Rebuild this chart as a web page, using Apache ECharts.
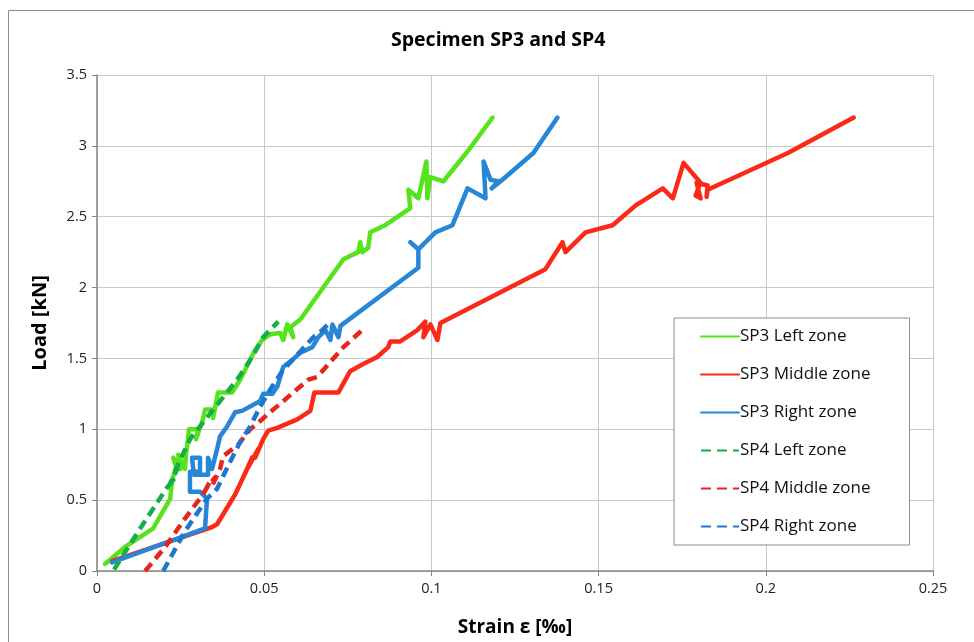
<!DOCTYPE html>
<html>
<head>
<meta charset="utf-8">
<script src="https://cdn.jsdelivr.net/npm/echarts@6/dist/echarts.min.js"></script>
<style>
  html, body { margin: 0; padding: 0; background: #fff; }
  #chart { width: 974px; height: 642px; }
</style>
</head>
<body>
<div id="chart"></div>
<script>
// axis ticks
const xTicks = [0, 0.05, 0.1, 0.15, 0.2, 0.25];
const yTicks = [0, 0.5, 1, 1.5, 2, 2.5, 3, 3.5];

const seriesNames = ['SP3 Left zone', 'SP3 Middle zone', 'SP3 Right zone', 'SP4 Left zone', 'SP4 Middle zone', 'SP4 Right zone'];

// SP3 left zone
const sp3LeftStrain = [0.0024, 0.0084, 0.0168, 0.0219, 0.0225, 0.0237, 0.0228, 0.0249, 0.0243, 0.0263, 0.0266, 0.0272, 0.0275, 0.0302, 0.0296, 0.0317, 0.0323, 0.0350, 0.0347, 0.0362, 0.0404, 0.0428, 0.0473, 0.0494, 0.0518, 0.0548, 0.0557, 0.0569, 0.0587, 0.0578, 0.0608, 0.0737, 0.0781, 0.0787, 0.0793, 0.0811, 0.0817, 0.0862, 0.0937, 0.0931, 0.0961, 0.0985, 0.0988, 0.0997, 0.1036, 0.1108, 0.1183];
const sp3LeftLoad = [0.05, 0.17, 0.30, 0.51, 0.65, 0.73, 0.80, 0.72, 0.82, 0.72, 0.82, 0.93, 1.00, 1.00, 0.93, 1.07, 1.14, 1.14, 1.08, 1.26, 1.26, 1.35, 1.56, 1.63, 1.67, 1.68, 1.63, 1.74, 1.65, 1.72, 1.775, 2.20, 2.25, 2.32, 2.25, 2.28, 2.39, 2.44, 2.56, 2.69, 2.63, 2.89, 2.63, 2.78, 2.75, 2.96, 3.20];

// SP3 middle zone
const sp3MiddleStrain = [0.0045, 0.0344, 0.0359, 0.0413, 0.0449, 0.0437, 0.0464, 0.0452, 0.0482, 0.0473, 0.0497, 0.0512, 0.0539, 0.0569, 0.0599, 0.0638, 0.0650, 0.0722, 0.0757, 0.0796, 0.0838, 0.0871, 0.0877, 0.0907, 0.0958, 0.0982, 0.0976, 0.0997, 0.1018, 0.1027, 0.1341, 0.1392, 0.1401, 0.1461, 0.1542, 0.1611, 0.1692, 0.1722, 0.1754, 0.1805, 0.1790, 0.1805, 0.1793, 0.1826, 0.1823, 0.1826, 0.2066, 0.2263];
const sp3MiddleLoad = [0.07, 0.31, 0.33, 0.54, 0.72, 0.66, 0.80, 0.73, 0.86, 0.80, 0.93, 0.99, 1.01, 1.04, 1.07, 1.13, 1.26, 1.26, 1.41, 1.46, 1.51, 1.58, 1.62, 1.62, 1.70, 1.76, 1.65, 1.74, 1.63, 1.75, 2.13, 2.32, 2.25, 2.39, 2.44, 2.58, 2.70, 2.63, 2.88, 2.74, 2.65, 2.63, 2.74, 2.72, 2.64, 2.69, 2.95, 3.20];

// SP3 right zone
const sp3RightStrain = [0.0045, 0.0323, 0.0329, 0.0308, 0.0278, 0.0278, 0.0308, 0.0308, 0.0284, 0.0290, 0.0332, 0.0332, 0.0344, 0.0359, 0.0368, 0.0389, 0.0413, 0.0434, 0.0488, 0.0497, 0.0524, 0.0539, 0.0557, 0.0584, 0.0608, 0.0644, 0.0662, 0.0683, 0.0698, 0.0704, 0.0722, 0.0728, 0.0961, 0.0961, 0.0937, 0.0961, 0.1012, 0.1063, 0.1108, 0.1162, 0.1156, 0.1177, 0.1201, 0.1180, 0.1207, 0.1305, 0.1377];
const sp3RightLoad = [0.06, 0.30, 0.51, 0.56, 0.56, 0.70, 0.70, 0.80, 0.80, 0.68, 0.68, 0.80, 0.72, 0.86, 0.95, 1.02, 1.12, 1.13, 1.20, 1.25, 1.25, 1.30, 1.44, 1.49, 1.54, 1.58, 1.65, 1.70, 1.63, 1.74, 1.65, 1.73, 2.14, 2.27, 2.32, 2.27, 2.39, 2.44, 2.70, 2.63, 2.89, 2.76, 2.75, 2.70, 2.75, 2.95, 3.20];

// SP4 left zone
const sp4LeftStrain = [0.0051, 0.0129, 0.0210, 0.0234, 0.0219, 0.0240, 0.0228, 0.0278, 0.0338, 0.0419, 0.0464, 0.0497, 0.0542];
const sp4LeftLoad = [0.01, 0.30, 0.59, 0.66, 0.62, 0.72, 0.68, 0.93, 1.11, 1.35, 1.51, 1.65, 1.76];

// SP4 middle zone
const sp4MiddleStrain = [0.0144, 0.0204, 0.0263, 0.0317, 0.0338, 0.0326, 0.0353, 0.0344, 0.0368, 0.0377, 0.0422, 0.0458, 0.0494, 0.0512, 0.0548, 0.0587, 0.0632, 0.0659, 0.0692, 0.0737, 0.0793];
const sp4MiddleLoad = [0.0, 0.17, 0.37, 0.54, 0.63, 0.58, 0.66, 0.60, 0.72, 0.81, 0.89, 1.00, 1.07, 1.11, 1.18, 1.26, 1.35, 1.37, 1.46, 1.58, 1.70];

// SP4 right zone
const sp4RightStrain = [0.0198, 0.0263, 0.0329, 0.0359, 0.0398, 0.0428, 0.0458, 0.0488, 0.0518, 0.0554, 0.0593, 0.0647, 0.0674, 0.0698];
const sp4RightLoad = [0.0, 0.28, 0.51, 0.58, 0.77, 0.91, 1.02, 1.16, 1.28, 1.41, 1.51, 1.65, 1.70, 1.76];

function pairs(xs, ys) {
    return xs.map(function (x, i) { return [x, ys[i]]; });
}

const chart = echarts.init(document.getElementById('chart'));
const font = '"Open Sans", "Noto Sans", sans-serif';

function makeSeries(name, strain, load, color, dashed) {
    return {
        name: name,
        type: 'line',
        data: pairs(strain, load),
        symbol: 'none',
        smooth: false,
        lineStyle: {
            color: color,
            width: 4.5,
            type: dashed ? [10, 6] : 'solid',
            cap: dashed ? 'butt' : 'round',
            join: 'round'
        },
        itemStyle: { color: color },
        emphasis: { disabled: true }
    };
}

const option = {
    animation: false,
    title: {
        text: 'Specimen SP3 and SP4',
        left: 386,
        top: 25,
        textStyle: { fontFamily: font, fontSize: 19.5, fontWeight: 'bold', color: '#000' }
    },
    graphic: [{
        type: 'rect',
        shape: { x: 8.5, y: 10.5, width: 980, height: 660 },
        style: { fill: 'none', stroke: '#8c8c8c', lineWidth: 1 },
        silent: true
    }],
    grid: {
        left: 97,
        right: 41,
        top: 75,
        bottom: 70
    },
    legend: {
        orient: 'vertical',
        left: 674,
        top: 318,
        padding: [10, 39, 10, 26],
        itemWidth: 38,
        itemHeight: 14,
        itemGap: 21,
        backgroundColor: '#fff',
        borderColor: '#8c8c8c',
        borderWidth: 1,
        borderRadius: 0,
        itemStyle: { opacity: 0 },
        textStyle: { fontFamily: font, fontSize: 17, color: '#111', padding: [0, 0, 0, -4] },
        data: seriesNames
    },
    xAxis: {
        type: 'value',
        min: xTicks[0],
        max: xTicks[xTicks.length - 1],
        interval: xTicks[1] - xTicks[0],
        name: 'Strain ε [‰]',
        nameLocation: 'middle',
        nameGap: 47,
        nameTextStyle: { fontFamily: font, fontSize: 19, fontWeight: 'bold', color: '#000' },
        axisLine: { show: true, onZero: false, lineStyle: { color: '#868686', width: 1.5 } },
        axisTick: { show: true, inside: false, length: 5, lineStyle: { color: '#868686' } },
        axisLabel: {
            fontFamily: font, fontSize: 14.5, color: '#222', margin: 10,
            formatter: function (v) { return String(+v.toFixed(2)); }
        },
        splitLine: { show: true, lineStyle: { color: '#c8c8c8', width: 1 } }
    },
    yAxis: {
        type: 'value',
        min: yTicks[0],
        max: yTicks[yTicks.length - 1],
        interval: yTicks[1] - yTicks[0],
        name: 'Load [kN]',
        nameLocation: 'middle',
        nameGap: 47,
        nameRotate: 90,
        nameTextStyle: { fontFamily: font, fontSize: 20, fontWeight: 'bold', color: '#000' },
        axisLine: { show: true, lineStyle: { color: '#868686', width: 1.5 } },
        axisTick: { show: true, inside: false, length: 5, lineStyle: { color: '#868686' } },
        axisLabel: { fontFamily: font, fontSize: 14.5, color: '#222', margin: 10 },
        splitLine: { show: true, lineStyle: { color: '#c8c8c8', width: 1 } }
    },
    series: [
        makeSeries(seriesNames[0], sp3LeftStrain, sp3LeftLoad, '#55e31b', false),
        makeSeries(seriesNames[1], sp3MiddleStrain, sp3MiddleLoad, '#fb2a18', false),
        makeSeries(seriesNames[2], sp3RightStrain, sp3RightLoad, '#2786d6', false),
        makeSeries(seriesNames[3], sp4LeftStrain, sp4LeftLoad, '#17ad4a', true),
        makeSeries(seriesNames[4], sp4MiddleStrain, sp4MiddleLoad, '#e8241c', true),
        makeSeries(seriesNames[5], sp4RightStrain, sp4RightLoad, '#1d77cc', true)
    ]
};

chart.setOption(option);

window.addEventListener('resize', function () {
    chart.resize();
});
</script>
</body>
</html>
